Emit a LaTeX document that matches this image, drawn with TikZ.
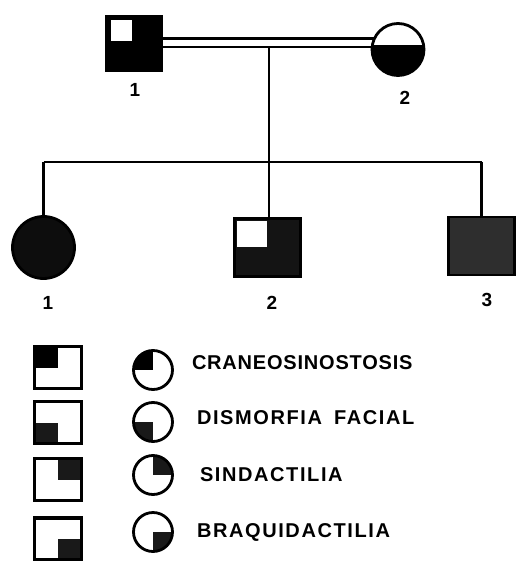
\documentclass[tikz,border=0pt]{standalone}
\usepackage{fontspec}
\setmainfont{Liberation Sans}
\newfontfamily\legfont[LetterSpace=4]{Liberation Sans}
\newfontfamily\legfontb[LetterSpace=8]{Liberation Sans}
\begin{document}
\begin{tikzpicture}[x=1pt,y=-1pt,
  every node/.style={inner sep=0pt, outer sep=0pt},
  ind/.style={draw=black, line width=2.8pt},
  conn/.style={draw=black, line width=2.2pt},
  lab/.style={font=\fontsize{19}{19}\selectfont\bfseries},
  legtext/.style={anchor=west, font=\legfont\fontsize{20}{20}\selectfont\bfseries},
  legtextb/.style={anchor=west, font=\legfontb\fontsize{20}{20}\selectfont\bfseries},
  qtl/.style={path picture={\fill[#1] (path picture bounding box.north west) rectangle (path picture bounding box.center);}},
  qbl/.style={path picture={\fill[#1] (path picture bounding box.south west) rectangle (path picture bounding box.center);}},
  qtr/.style={path picture={\fill[#1] (path picture bounding box.north east) rectangle (path picture bounding box.center);}},
  qbr/.style={path picture={\fill[#1] (path picture bounding box.south east) rectangle (path picture bounding box.center);}},
  legsq/.style={ind, line width=3.2pt, rectangle, minimum width=47pt, minimum height=42pt},
  legci/.style={ind, circle, minimum size=39pt}
]
\useasboundingbox (0,0) rectangle (516,561);
\fill[white] (0,0) rectangle (516,561);

% parents
\node[ind, rectangle, fill=black, minimum width=55pt, minimum height=54pt,
  path picture={\fill[white] ([shift={(4pt,-4pt)}]path picture bounding box.north west) rectangle ([shift={(-2pt,2pt)}]path picture bounding box.center);}]
  (f) at (134,43.5) {};
\node[ind, circle, minimum size=52pt,
  path picture={\fill[black] ([yshift=4pt]path picture bounding box.west) rectangle (path picture bounding box.south east);}]
  (m) at (398,49.5) {};
\node[lab] (lf) at (135,90) {1};
\node[lab] (lm) at (405,98) {2};

% children
\node[ind, circle, fill=black!95, minimum size=62pt] (c1) at (43.5,247.5) {};
\node[ind, rectangle, fill=black!92, minimum width=66pt, minimum height=58pt,
  path picture={\fill[white] ([shift={(2pt,-2pt)}]path picture bounding box.north west) rectangle ([shift={(-1pt,1pt)}]path picture bounding box.center);}]
  (c2) at (267.5,247.5) {};
\node[ind, rectangle, fill=black!82, minimum width=66pt, minimum height=58pt] (c3) at (481.5,246) {};
\node[lab] (l1) at (48,303) {1};
\node[lab] (l2) at (272,303) {2};
\node[lab] (l3) at (487,300) {3};

% connectors
\draw[conn] (f.east |- m.155) -- (m.155);
\draw[conn] (f.east |- m.175) -- (m.175);
\coordinate (d) at (269,47);
\coordinate (s) at (269,162);
\draw[conn] (d) -- (s);
\draw[conn] (c1.north |- s) -- (c3.north |- s);
\draw[conn] (c1.north |- s) -- (c1.north);
\draw[conn] (s) -- (s |- c2.north);
\draw[conn] (c3.north |- s) -- (c3.north);

% legend
\node[legsq, qtl=black] (s1) at (58,367.5) {};
\node[legsq, qbl=black!90] (s2) at (58,422.5) {};
\node[legsq, qtr=black!90] (s3) at (58,479.5) {};
\node[legsq, qbr=black!90] (s4) at (58,539) {};
\node[legci, qtl=black] (k1) at (153,370) {};
\node[legci, qbl=black!90] (k2) at (153,422) {};
\node[legci, qtr=black!90] (k3) at (153,475) {};
\node[legci, qbr=black!90] (k4) at (153,532) {};
\node[legtext] (t1) at (192,363) {CRANEOSINOSTOSIS};
\node[legtextb] (t2) at (197,418) {DISMORFIA\hspace{5pt} FACIAL};
\node[legtextb] (t3) at (200,475) {SINDACTILIA};
\node[legtextb] (t4) at (197,532) {BRAQUIDACTILIA};
\end{tikzpicture}
\end{document}
